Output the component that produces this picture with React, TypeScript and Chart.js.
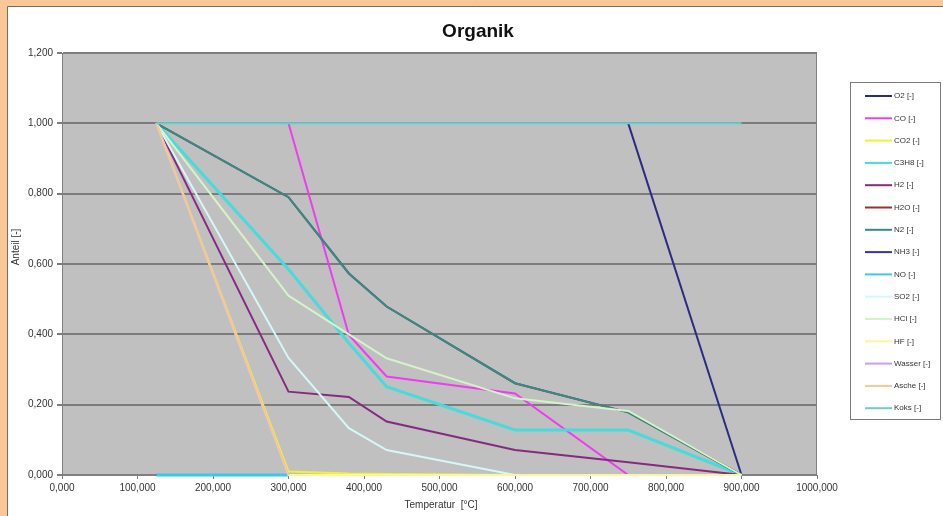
import React, { useEffect, useRef } from 'react';
import { Chart, registerables } from 'chart.js';

Chart.register(...registerables);

// ---- Data ----
const temperatures = [125, 300, 380, 430, 600, 750, 900];

const seriesNames = [
  'O2 [-]', 'CO [-]', 'CO2 [-]', 'C3H8 [-]', 'H2 [-]', 'H2O [-]', 'N2 [-]', 'NH3 [-]',
  'NO [-]', 'SO2 [-]', 'HCl [-]', 'HF [-]', 'Wasser [-]', 'Asche [-]', 'Koks [-]',
];

const o2 = [null, null, null, null, null, 1.0, 0.0];
const co = [null, 1.0, 0.398, 0.28, 0.232, 0.0, 0.0];
const co2 = [1.0, 0.01, 0.004, 0.003, 0.0, 0.0, 0.0];
const c3h8 = [1.0, 0.585, 0.375, 0.251, 0.128, 0.128, 0.0];
const h2 = [1.0, 0.237, 0.222, 0.152, 0.071, 0.036, 0.0];
const h2o = [1.0, 0.79, 0.573, 0.479, 0.261, 0.178, 0.0];
const n2 = [1.0, 0.79, 0.573, 0.479, 0.261, 0.178, 0.0];
const nh3 = [0.0, 0.0, 0.0, 0.0, 0.0, 0.0, 0.0];
const no = [0.0, 0.0, null, null, null, null, null];
const so2 = [1.0, 0.333, 0.133, 0.071, 0.0, 0.0, 0.0];
const hcl = [1.0, 0.51, 0.4, 0.332, 0.218, 0.182, 0.0];
const hf = [1.0, 0.0, 0.0, 0.0, 0.0, 0.0, 0.0];
const wasser = [1.0, 0.0, null, null, null, null, null];
const asche = [1.0, 0.0, null, null, null, null, null];
const koks = [1.0, 1.0, 1.0, 1.0, 1.0, 1.0, 1.0];

const seriesValues = [o2, co, co2, c3h8, h2, h2o, n2, nh3, no, so2, hcl, hf, wasser, asche, koks];

const seriesColors = [
  '#2b2b82', '#f03cf0', '#f2f230', '#45dcdc', '#862a80', '#963232', '#318c8a', '#3535a8',
  '#38c8f0', '#d4f8f8', '#d2f4c8', '#f8f8a0', '#c8a0f0', '#f4c898', '#66d0d0',
];
const seriesWidths = [2, 2, 2, 3, 2, 2, 2, 2, 3, 2, 2, 2, 2, 2, 2];

const xTickValues = [0, 100, 200, 300, 400, 500, 600, 700, 800, 900, 1000];
const yTickValues = [0, 0.2, 0.4, 0.6, 0.8, 1.0, 1.2];

const chartTitle = 'Organik';
const xTitle = 'Temperatur  [°C]';
const yTitle = 'Anteil [-]';

const FONT = '"Liberation Sans", Arial, sans-serif';

function fmt(v: number): string {
  return Number(v).toFixed(3).replace('.', ',');
}

const framePlugin = {
  id: 'frame',
  beforeDraw(chart: any) {
    const { ctx, width, height, chartArea } = chart;
    ctx.save();
    ctx.fillStyle = '#fac896';
    ctx.fillRect(0, 0, width, height);
    ctx.fillStyle = '#ffffff';
    ctx.fillRect(7, 7, width - 7, height - 7);
    ctx.strokeStyle = '#6e6e6e';
    ctx.lineWidth = 1;
    ctx.beginPath();
    ctx.moveTo(7.5, height);
    ctx.lineTo(7.5, 6.5);
    ctx.lineTo(width, 6.5);
    ctx.stroke();
    ctx.fillStyle = '#c0c0c0';
    ctx.fillRect(chartArea.left, chartArea.top, chartArea.right - chartArea.left, chartArea.bottom - chartArea.top);
    ctx.restore();
  },
  beforeDatasetsDraw(chart: any) {
    const { ctx, chartArea } = chart;
    ctx.save();
    ctx.strokeStyle = '#808080';
    ctx.lineWidth = 1;
    ctx.strokeRect(chartArea.left + 0.5, chartArea.top + 0.5, chartArea.right - chartArea.left - 1, chartArea.bottom - chartArea.top - 1);
    ctx.restore();
  },
  afterDraw(chart: any) {
    const { ctx } = chart;
    ctx.save();
    // title
    ctx.fillStyle = '#111';
    ctx.font = `bold 19px ${FONT}`;
    ctx.textAlign = 'center';
    ctx.textBaseline = 'middle';
    ctx.fillText(chartTitle, 478, 32);

    // axis titles
    ctx.fillStyle = '#333';
    ctx.font = `10px ${FONT}`;
    ctx.fillText(xTitle, 441, 505);
    ctx.save();
    ctx.translate(16, 247);
    ctx.rotate(-Math.PI / 2);
    ctx.fillText(yTitle, 0, 0);
    ctx.restore();

    // legend
    const lx = 850, ly = 82, lw = 91, lh = 338;
    ctx.fillStyle = '#ffffff';
    ctx.fillRect(lx, ly, lw, lh);
    ctx.strokeStyle = '#7a7a7a';
    ctx.lineWidth = 1;
    ctx.strokeRect(lx + 0.5, ly + 0.5, lw - 1, lh - 1);
    ctx.font = `8px ${FONT}`;
    ctx.textAlign = 'left';
    ctx.textBaseline = 'middle';
    chart.data.datasets.forEach((ds: any, i: number) => {
      const y = 96 + i * 22.3;
      ctx.strokeStyle = ds.borderColor;
      ctx.lineWidth = 2;
      ctx.beginPath();
      ctx.moveTo(865, y);
      ctx.lineTo(892, y);
      ctx.stroke();
      ctx.fillStyle = '#333';
      ctx.fillText(ds.label, 894, y);
    });
    ctx.restore();
  },
};

export default function App() {
  const canvasRef = useRef<HTMLCanvasElement | null>(null);

  useEffect(() => {
    document.body.style.margin = '0';
    const canvas = canvasRef.current;
    if (!canvas) return;
    const datasets = seriesNames.map((name, i) => ({
      label: name,
      data: temperatures.map((t, j) => ({ x: t, y: seriesValues[i][j] })),
      borderColor: seriesColors[i],
      backgroundColor: seriesColors[i],
      borderWidth: seriesWidths[i],
      pointRadius: 0,
      tension: 0,
      fill: false,
      spanGaps: false,
      clip: false as any,
      order: seriesNames.length - i,
    }));

    const chart = new Chart(canvas, {
      type: 'line',
      data: { datasets },
      options: {
        animation: false,
        responsive: false,
        devicePixelRatio: 1,
        layout: { padding: { top: 53, right: 126, left: 0, bottom: 0 } },
        plugins: {
          legend: { display: false },
          title: { display: false },
          tooltip: { enabled: false },
        },
        scales: {
          x: {
            type: 'linear',
            min: 0,
            max: 1000,
            afterFit: (s: any) => { s.height = 41; },
            afterBuildTicks: (s: any) => { s.ticks = xTickValues.map((v) => ({ value: v })); },
            ticks: {
              autoSkip: false,
              maxRotation: 0,
              padding: 3,
              color: '#333',
              font: { family: FONT, size: 10 },
              callback: (v: any) => fmt(v),
            },
            grid: {
              drawOnChartArea: false,
              drawTicks: true,
              tickLength: 4,
              color: '#808080',
            },
            border: { color: '#808080', width: 1 },
          },
          y: {
            type: 'linear',
            min: 0,
            max: 1.2,
            afterFit: (s: any) => { s.width = 62; },
            afterBuildTicks: (s: any) => { s.ticks = yTickValues.map((v) => ({ value: v })); },
            ticks: {
              autoSkip: false,
              padding: 4,
              color: '#333',
              font: { family: FONT, size: 10 },
              callback: (v: any) => fmt(v),
            },
            grid: {
              color: '#7c7c7c',
              lineWidth: 2,
              tickLength: 5,
            },
            border: { color: '#808080', width: 1 },
          },
        },
      },
      plugins: [framePlugin],
    });
    return () => chart.destroy();
  }, []);

  return (
    <div style={{ position: 'absolute', left: 0, top: 0, width: 943, height: 516 }}>
      <canvas ref={canvasRef} width={943} height={516} style={{ display: 'block' }} />
    </div>
  );
}
